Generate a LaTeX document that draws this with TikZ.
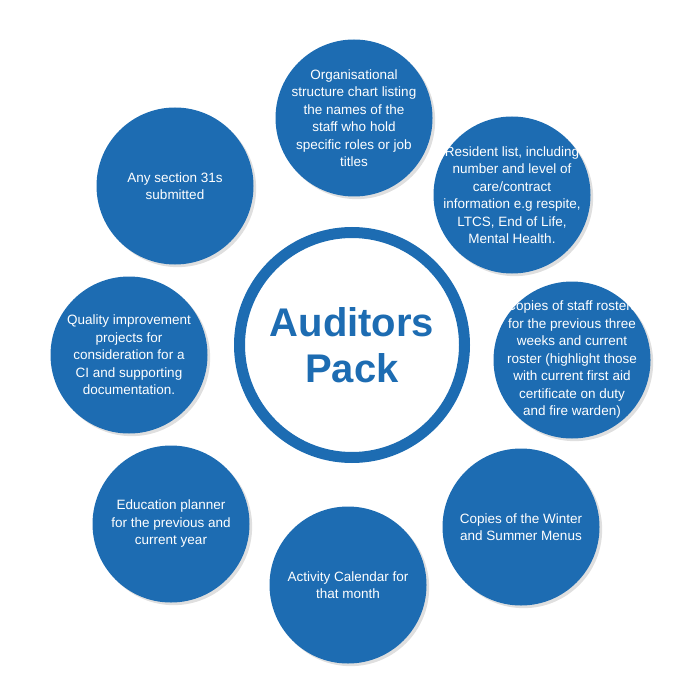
\documentclass[tikz,border=0pt]{standalone}
\usepackage{fontspec}
\setmainfont{Liberation Sans}
\usetikzlibrary{shadows}
\definecolor{cblue}{RGB}{29,108,178}
\begin{document}
\begin{tikzpicture}[x=1pt,y=-1pt,
  sat/.style={circle,fill=cblue,minimum size=157pt,inner sep=0pt,drop shadow={opacity=0.25}},
  txt/.style={text=white,align=center,font=\fontsize{13.5}{17.5}\selectfont,inner sep=0pt},
]
\useasboundingbox (0,0) rectangle (700,700);
\node[circle,draw=cblue,line width=11pt,fill=white,minimum size=225pt,text=cblue,font=\bfseries\fontsize{40}{46}\selectfont,align=center] (c) at (352,345) {Auditors\\Pack};
\node[sat] (s1) at (354,118) {};
\node[txt] at (s1) {Organisational\\structure chart listing\\the names of the\\staff who hold\\specific roles or job\\titles};
\node[sat] (s2) at (512,195) {};
\node[txt] at (s2) {Resident list, including\\number and level of\\care/contract\\information e.g respite,\\LTCS, End of Life,\\Mental Health.};
\node[sat] (s3) at (572,360) {};
\node[txt] at (s3) {Copies of staff rosters\\for the previous three\\weeks and current\\roster (highlight those\\with current first aid\\certificate on duty\\and fire warden)};
\node[sat] (s4) at (521,527) {};
\node[txt] at (s4) {Copies of the Winter\\and Summer Menus};
\node[sat] (s5) at (348,585) {};
\node[txt] at (s5) {Activity Calendar for\\that month};
\node[sat] (s6) at (171,524) {};
\node[txt] at (s6) {Education planner\\for the previous and\\current year};
\node[sat] (s7) at (129,355) {};
\node[txt] at (s7) {Quality improvement\\projects for\\consideration for a\\CI and supporting\\documentation.};
\node[sat] (s8) at (175,186) {};
\node[txt] at (s8) {Any section 31s\\submitted};
\end{tikzpicture}
\end{document}
